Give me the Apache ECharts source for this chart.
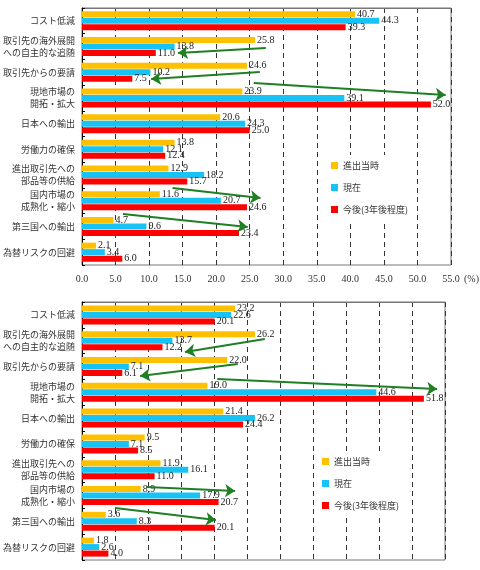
<!DOCTYPE html>
<html><head><meta charset="utf-8">
<script src="https://cdn.jsdelivr.net/npm/echarts@6/dist/echarts.min.js"></script>
<style>html,body{margin:0;padding:0;background:#fff}#c{width:480px;height:570px}</style>
</head><body><div id="c"></div>
<script>
const categories = ['コスト低減','取引先の海外展開\nへの自主的な追随','取引先からの要請','現地市場の\n開拓・拡大','日本への輸出','労働力の確保','進出取引先への\n部品等の供給','国内市場の\n成熟化・縮小','第三国への輸出','為替リスクの回避'];
const seriesNames = ['進出当時','現在','今後(3年後程度)'];
const xTicks = [0,5,10,15,20,25,30,35,40,45,50,55];
const unitLabel = '(%)';
// upper chart
const topEntry  = [40.7,25.8,24.6,23.9,20.6,13.8,12.9,11.6,4.7,2.1];
const topNow    = [44.3,13.8,10.2,39.1,24.3,12.1,18.2,20.7,9.6,3.4];
const topFuture = [39.3,11.0,7.5,52.0,25.0,12.4,15.7,24.6,23.4,6.0];
// lower chart
const botEntry  = [23.2,26.2,22.0,19.0,21.4,9.5,11.9,8.9,3.6,1.8];
const botNow    = [22.6,13.7,7.1,44.6,26.2,7.1,16.1,17.9,8.3,2.6];
const botFuture = [20.1,12.2,6.1,51.8,24.4,8.5,11.0,20.7,20.1,4.0];
// arrows: [x1, row1, x2, row2] in value / category-row units
const topArrows = [[27.4,1.56,14.3,1.75],[26.5,2.49,10.3,2.76],[25.6,2.92,54.2,3.39],[13.5,7.0,26.6,7.39],[6.1,8.02,24.7,8.52]];
const botArrows = [[27.7,1.43,15.6,1.94],[23.6,2.40,8.8,2.87],[20.5,2.98,53.8,3.37],[9.8,7.17,23.2,7.33],[5.0,7.98,20.3,8.45]];

const colors = ['#ffc000','#17c3f5','#ff0000'];
const serif = 'Liberation Serif';
const cjk = 'Noto Sans CJK JP';

function xAxisDef(gi, showLabels){
  return {
    type:'value', gridIndex:gi, min:xTicks[0], max:xTicks[xTicks.length-1], interval:xTicks[1]-xTicks[0],
    axisLine:{show:true,lineStyle:{color:'#777'}},
    axisTick:{show:false},
    axisLabel:{show:showLabels, fontFamily:serif, fontSize:10, color:'#333', margin:9,
      formatter:v=>v.toFixed(1)},
    splitLine:{show:true,lineStyle:{color:'#333',type:[5,4],width:1}}
  };
}
function yAxisDef(gi){
  return {
    type:'category', gridIndex:gi, data:categories, inverse:true,
    axisLine:{show:true,lineStyle:{color:'#000',width:1}},
    axisTick:{show:true,inside:true,length:3,lineStyle:{color:'#000'}},
    axisLabel:{fontFamily:cjk,fontSize:9,color:'#333',lineHeight:12,margin:7},
    splitLine:{show:false}
  };
}
function hiddenY(gi){
  return {type:'value',gridIndex:gi,min:0,max:10,inverse:true,show:false,splitLine:{show:false}};
}
function barSeries(name, data, gi, ci){
  return {
    type:'bar', name:name, xAxisIndex:gi, yAxisIndex:gi, data:data,
    barWidth:6, barGap:'8%', itemStyle:{color:colors[ci]},
    label:{show:true,position:'right',distance:2,fontFamily:serif,fontSize:10,color:'#222',
      formatter:p=>p.value.toFixed(1)},
    z:2
  };
}
function arrowSeries(arr, gi){
  return {
    type:'lines', coordinateSystem:'cartesian2d', xAxisIndex:gi, yAxisIndex:gi+2,
    symbol:['none','arrow'], symbolSize:10,
    lineStyle:{color:'#1f7f23',width:2,opacity:1,curveness:0},
    data: arr.map(a=>({coords:[[a[0],a[1]],[a[2],a[3]]]})),
    z:5, silent:true
  };
}
function legendDef(left, top){
  return {
    data:seriesNames, orient:'vertical', left:left, top:top, icon:'rect',
    itemWidth:7, itemHeight:7, itemGap:13, backgroundColor:'#fff', padding:[6,8,6,4],
    textStyle:{fontFamily:cjk,fontSize:9,color:'#333'}, selectedMode:false
  };
}
const chart = echarts.init(document.getElementById('c'));
chart.setOption({
  animation:false,
  backgroundColor:'#fff',
  title:{text:unitLabel, left:464, top:274, textStyle:{fontFamily:serif,fontSize:10,fontWeight:'normal',color:'#333'}, padding:0},
  grid:[
    {left:81, top:8, width:370, height:257, show:true, borderColor:'#777', borderWidth:1},
    {left:82, top:302, width:363, height:258, show:true, borderColor:'#777', borderWidth:1}
  ],
  legend:[legendDef(327,155), legendDef(318,451)],
  xAxis:[xAxisDef(0,true), xAxisDef(1,false)],
  yAxis:[yAxisDef(0), yAxisDef(1), hiddenY(0), hiddenY(1)],
  series:[
    barSeries(seriesNames[0], topEntry, 0, 0),
    barSeries(seriesNames[1], topNow, 0, 1),
    barSeries(seriesNames[2], topFuture, 0, 2),
    barSeries(seriesNames[0], botEntry, 1, 0),
    barSeries(seriesNames[1], botNow, 1, 1),
    barSeries(seriesNames[2], botFuture, 1, 2),
    arrowSeries(topArrows, 0),
    arrowSeries(botArrows, 1)
  ]
});
</script></body></html>
